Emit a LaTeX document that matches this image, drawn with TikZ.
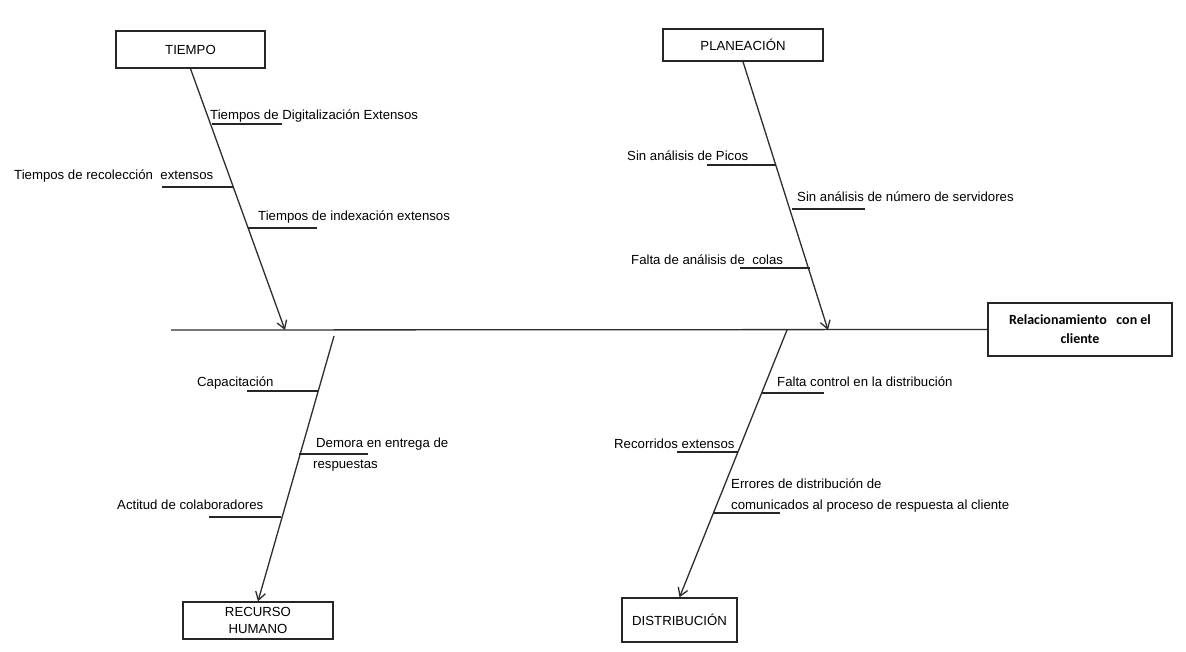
\documentclass[tikz,border=0pt]{standalone}
\usepackage{fontspec}
\setmainfont{Liberation Sans}
\newfontfamily\calib{Carlito}
\usetikzlibrary{arrows.meta}
\begin{document}
\begin{tikzpicture}[x=1pt,y=-1pt,
  font=\fontsize{13.2}{20.5}\selectfont,
  ln/.style={draw=black!82, line width=1.3pt},
  arr/.style={ln, -{Straight Barb[length=8pt,width=10pt]}},
  rib/.style={draw=black!85, line width=1.4pt},
  catbox/.style={draw=black!85, line width=1.4pt, align=center, inner sep=0pt},
  lbl/.style={anchor=base west, inner sep=0pt, align=left}
]
\useasboundingbox[fill=white] (0,0) rectangle (1186,652);

% category boxes
\node[catbox, minimum width=149pt, minimum height=37pt] (tiempo) at (190.5,49.5) {TIEMPO};
\node[catbox, minimum width=160pt, minimum height=32pt] (plan) at (743,45) {PLANEACIÓN};
\node[catbox, minimum width=150pt, minimum height=37pt] (rh) at (258,620.5) {RECURSO\\[-4pt]HUMANO};
\node[catbox, minimum width=115pt, minimum height=44pt] (dist) at (679.5,620) {DISTRIBUCIÓN};
\node[catbox, minimum width=184pt, minimum height=53pt, font=\calib\bfseries\fontsize{14}{19}\selectfont] (effect) at (1080,329.5) {Relacionamiento\ \ \ con el\\cliente};

% spine
\coordinate (spineL) at (171,330);
\draw[ln] (spineL) -- (effect.west);

% branch end points on spine
\coordinate (tEnd) at (285,330);
\coordinate (pEnd) at (828,330);
\coordinate (rStart) at (334,336);
\coordinate (dStart) at (787,330);

\draw[arr] (tiempo.south) -- (tEnd);
\draw[arr] (plan.south) -- (pEnd);
\draw[arr] (rStart) -- (rh.north);
\draw[arr] (dStart) -- (dist.north);

% TIEMPO ribs
\coordinate (a1) at (212,124); \coordinate (a2) at (282,124);
\draw[rib] (a1) -- (a2);
\node[lbl] (ta) at (210,120) {Tiempos de Digitalización Extensos};
\coordinate (b1) at (162,187); \coordinate (b2) at (233,187);
\draw[rib] (b1) -- (b2);
\node[lbl] (tb) at (14,180) {Tiempos de recolección\ \ extensos};
\coordinate (c1) at (248,228); \coordinate (c2) at (317,228);
\draw[rib] (c1) -- (c2);
\node[lbl] (tc) at (258,221) {Tiempos de indexación extensos};

% PLANEACION ribs
\coordinate (d1) at (707,165); \coordinate (d2) at (776,165);
\draw[rib] (d1) -- (d2);
\node[lbl] (pa) at (627,161) {Sin análisis de Picos};
\coordinate (e1) at (792,209); \coordinate (e2) at (865,209);
\draw[rib] (e1) -- (e2);
\node[lbl] (pb) at (797,202) {Sin análisis de número de servidores};
\coordinate (f1) at (740,268); \coordinate (f2) at (810,268);
\draw[rib] (f1) -- (f2);
\node[lbl] (pc) at (631,265) {Falta de análisis de\ \ colas};

% RECURSO HUMANO ribs
\coordinate (g1) at (247,391); \coordinate (g2) at (318,391);
\draw[rib] (g1) -- (g2);
\node[lbl] (ra) at (197,386) {Capacitación};
\coordinate (h1) at (299,454); \coordinate (h2) at (368,454);
\draw[rib] (h1) -- (h2);
\node[lbl] (rb) at (313,468) {\hspace{3pt}Demora en entrega de\\respuestas};
\coordinate (i1) at (209,517); \coordinate (i2) at (281,517);
\draw[rib] (i1) -- (i2);
\node[lbl] (rc) at (117,509) {Actitud de colaboradores};

% DISTRIBUCION ribs
\coordinate (j1) at (762,393); \coordinate (j2) at (824,393);
\draw[rib] (j1) -- (j2);
\node[lbl] (da) at (777,386) {Falta control en la distribución};
\coordinate (k1) at (677,452); \coordinate (k2) at (738,452);
\draw[rib] (k1) -- (k2);
\node[lbl] (db) at (614,448) {Recorridos extensos};
\coordinate (l1) at (714,513); \coordinate (l2) at (780,513);
\draw[rib] (l1) -- (l2);
\node[lbl] (dc) at (731,509) {Errores de distribución de\\comunicados al proceso de respuesta al cliente};
\end{tikzpicture}
\end{document}
